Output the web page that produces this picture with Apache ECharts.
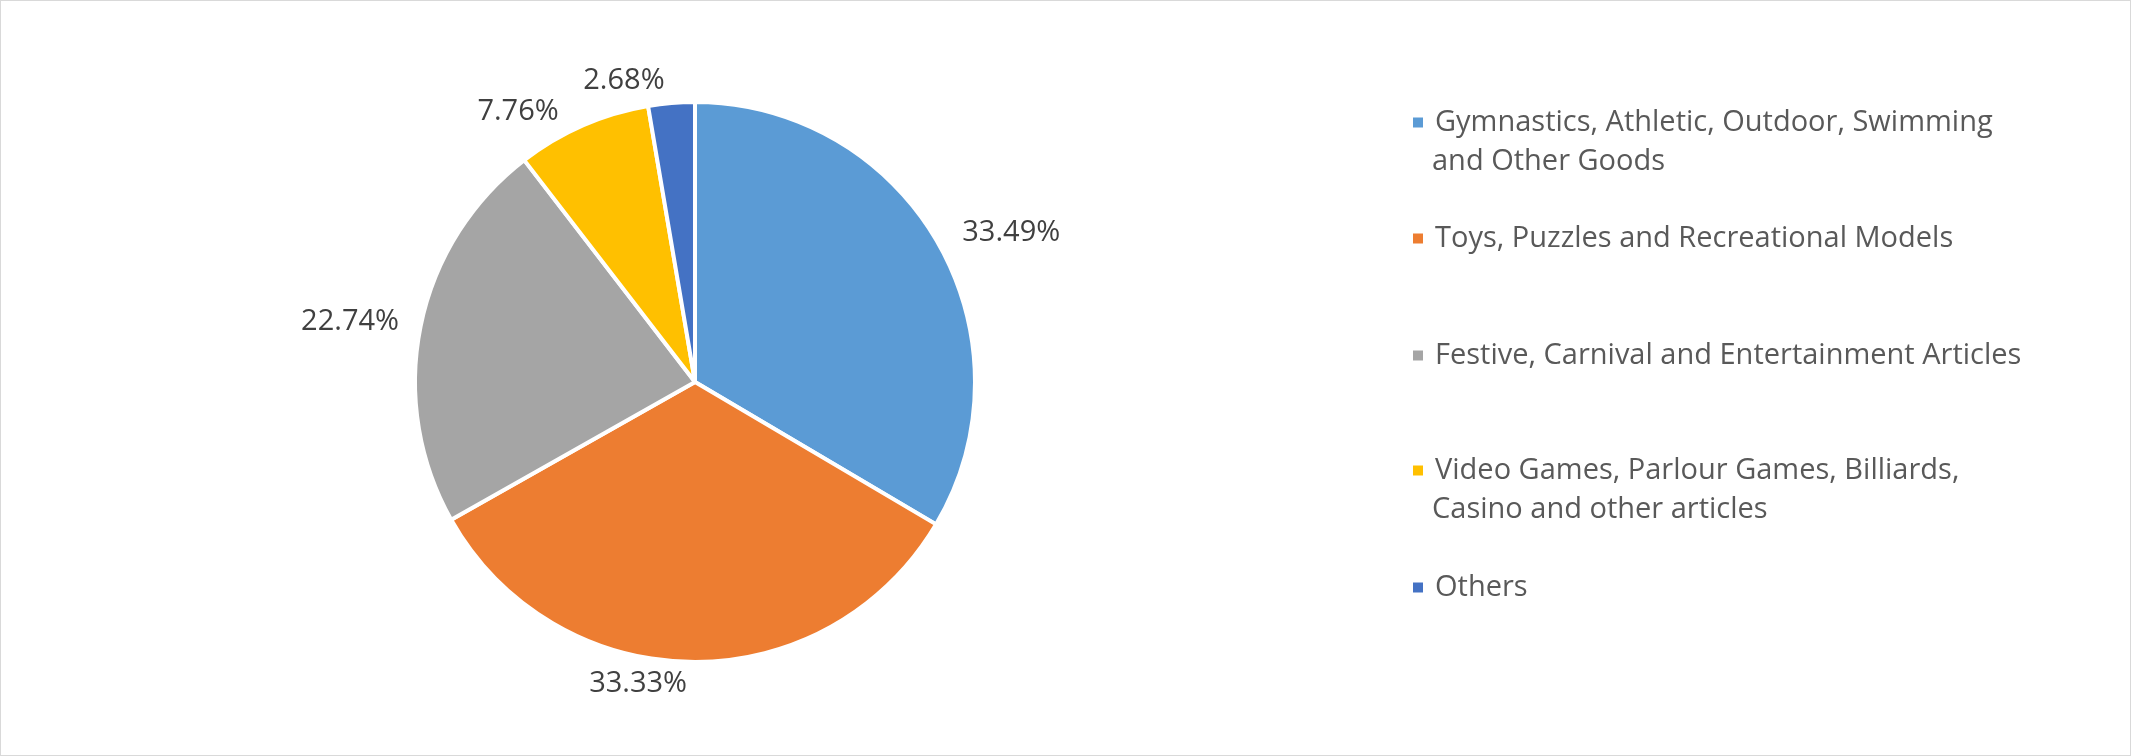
<!DOCTYPE html><html><head><meta charset="utf-8">
<script src="https://cdn.jsdelivr.net/npm/echarts@6/dist/echarts.min.js"></script>
<style>html,body{margin:0;padding:0;background:#fff}#c{width:2129px;height:754px;border:1px solid #d9d9d9}</style></head><body><div id="c"></div>
<script>
const categories=["Gymnastics, Athletic, Outdoor, Swimming","Toys, Puzzles and Recreational Models","Festive, Carnival and Entertainment Articles","Video Games, Parlour Games, Billiards,","Others"];
const secondLines=["and Other Goods","","","Casino and other articles",""];
const values=[33.49,33.33,22.74,7.76,2.68];
const colors=["#5b9bd5","#ed7d31","#a5a5a5","#ffc000","#4472c4"];
const tops=[122,238,355,470,587];
const font="Open Sans";
const legends=categories.map((c,i)=>({data:[c],left:1405,top:tops[i]-20,orient:'vertical',icon:'rect',itemWidth:12,itemHeight:12,itemGap:10,
 textStyle:{fontFamily:font,fontSize:29,color:'#595959',padding:[0,0,0,6]}}));
const graphics=[];
secondLines.forEach((s,i)=>{if(s)graphics.push({type:'text',left:1431,top:tops[i]+24,style:{text:s,fontFamily:font,fontSize:29,fill:'#595959'}});});
const chart=echarts.init(document.getElementById('c'));
chart.setOption({animation:false,legend:legends,graphic:graphics,color:colors,
series:[{type:'pie',center:[694,381],radius:[0,280],startAngle:90,clockwise:true,
 itemStyle:{borderColor:'#fff',borderWidth:4},
 label:{show:true,position:'outside',formatter:p=>p.value.toFixed(2)+'%',fontFamily:font,fontSize:29,color:'#404040'},
 labelLine:{show:false,length:22,length2:0},
 data:categories.map((c,i)=>({name:c,value:values[i]}))}]});
</script></body></html>
